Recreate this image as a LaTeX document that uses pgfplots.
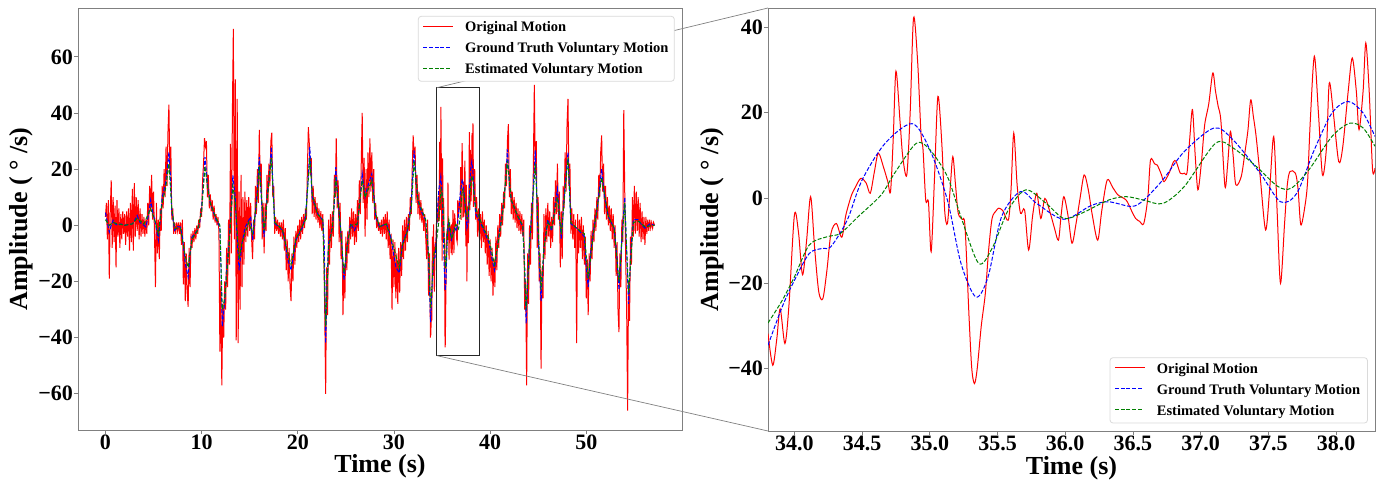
\documentclass[border=0pt]{standalone}
\usepackage{pgfplots}
\pgfplotsset{compat=1.18}
\usepackage{pgfplotstable}
\usepackage{fontspec}
\setmainfont{Liberation Serif}
\definecolor{mplgreen}{RGB}{0,128,0}
\definecolor{lgbox}{RGB}{218,218,218}
\begin{document}
\pgfplotstableread{
x y
33.805 -31.8
33.84 -39.2
33.87 -33
33.895 -26
33.93 -34.1
33.96 -25
34.0 -4
34.03 -8
34.06 -18
34.09 -10
34.12 0.3
34.15 -12
34.18 -22
34.21 -23.6
34.24 -17
34.27 -8.3
34.31 -6
34.35 -9.2
34.38 -4
34.42 0.5
34.45 2.5
34.49 4.6
34.53 3.5
34.56 1.1
34.59 6
34.62 10.5
34.66 7
34.69 3.8
34.71 1.5
34.73 14
34.75 29.7
34.78 18
34.8 9.7
34.83 5.4
34.855 20
34.88 42.2
34.91 32
34.935 15
34.95 11.3
34.97 -0.5
34.99 -1
35.01 -12.6
35.035 5
35.06 23.8
35.09 12
35.11 -3
35.13 -6
35.15 2
35.17 9.7
35.19 3
35.21 -3.6
35.24 -5
35.26 -6.7
35.29 -28
35.31 -40
35.33 -43.5
35.35 -40
35.38 -30
35.41 -22.4
35.435 -12
35.46 -4.8
35.49 -3
35.51 -2.4
35.54 -3
35.58 -5.2
35.6 2
35.62 15.2
35.645 3
35.67 -3.6
35.7 -2.8
35.73 -12.2
35.76 -4
35.79 1.1
35.82 -4.8
35.85 -0.1
35.89 -3.6
35.92 -7
35.95 -9.9
35.97 -4
35.99 0.3
36.02 -4
36.05 -10.6
36.08 -6
36.11 0
36.14 5.4
36.17 2
36.2 -4
36.24 -9.9
36.27 -3
36.31 4.2
36.35 2.5
36.39 0.7
36.45 -0.5
36.49 -3
36.52 -4.8
36.55 -5.5
36.58 -6
36.61 0
36.63 8.9
36.66 8
36.68 7.7
36.71 5.5
36.73 3.8
36.77 6
36.8 8.5
36.82 8.5
36.85 5.8
36.88 5.8
36.9 6
36.92 14
36.94 20.7
36.96 10
36.98 1.9
37.005 8
37.03 17.1
37.06 22
37.09 29.3
37.11 25
37.13 21.4
37.15 18
37.18 2.7
37.2 8
37.22 15.6
37.24 10
37.26 3.1
37.3 5
37.33 11.3
37.35 16
37.37 23
37.39 19
37.41 14.4
37.44 5
37.48 -7.5
37.51 2
37.54 14.4
37.565 -3
37.59 -20
37.62 -6
37.64 3
37.66 6.2
37.7 5.8
37.72 2
37.74 -6.3
37.77 -2
37.79 3.8
37.81 18
37.84 33.2
37.87 20
37.9 5.4
37.93 12
37.95 26.9
37.98 20
38.02 8.5
38.05 12
38.09 25
38.12 32.8
38.15 25
38.17 16
38.2 25
38.22 36.3
38.245 25
38.27 6.6
38.288 7
}\zred
\pgfplotstableread{
x y
33.805 -34.5
33.91 -25.5
34.0 -19.3
34.11 -13
34.21 -11.8
34.27 -11.4
34.39 -5.2
34.5 4.2
34.67 12.8
34.87 17.4
35.0 11.3
35.13 -0.5
35.23 -15.3
35.34 -23.2
35.43 -18.5
35.53 -4.4
35.67 1.5
35.79 -1.3
35.99 -5
36.19 -1.8
36.32 -0.9
36.49 -2
36.58 -0.5
36.72 4.2
36.88 10.9
37.1 16.4
37.24 13.6
37.44 5.8
37.59 -0.9
37.71 1.1
37.84 11.3
37.97 19.9
38.09 22.6
38.2 19.9
38.288 14.4
}\zblue
\pgfplotstableread{
x y
33.805 -29.3
33.91 -24
34.0 -18.5
34.11 -11
34.24 -9.1
34.34 -8.3
34.47 -4.4
34.64 0.7
34.74 5.8
34.9 12.8
35.0 11.3
35.13 5
35.23 -4.4
35.36 -15.3
35.46 -11.8
35.58 -2.8
35.71 1.9
35.86 -1.3
35.99 -4.8
36.12 -3.6
36.32 -0.5
36.45 0.3
36.58 -0.5
36.72 -1.3
36.88 2.7
37.11 12.8
37.24 11.7
37.41 7.4
37.57 2.7
37.67 2.3
37.8 6.6
37.97 14.4
38.1 17.5
38.2 16.4
38.288 12.1
}\zgreen
\begin{tikzpicture}
\pgfplotsset{
  mystyle/.style={scale only axis,
    axis line style={gray, line width=0.8pt},
    tick align=outside, major tick length=4pt,
    tick style={gray, line width=0.8pt},
    xtick pos=bottom, ytick pos=left,
    ticklabel style={font=\fontsize{22}{24}\selectfont\bfseries, inner sep=1pt},
    label style={font=\fontsize{26}{30}\selectfont\bfseries, inner sep=0pt},
  },
  redline/.style={color=red, line width=1pt},
  blueline/.style={color=blue, line width=1pt, dash pattern=on 4pt off 1.8pt},
  greenline/.style={color=mplgreen, line width=1pt, dash pattern=on 4pt off 1.8pt},
}
\tikzset{legtext/.style={anchor=base west, inner sep=0pt, font=\fontsize{14.5}{16}\selectfont\bfseries}}
\begin{axis}[mystyle, at={(0pt,0pt)}, anchor=south west, width=604pt, height=422pt,
  xmin=-2.855, xmax=59.955, ymin=-72.9, ymax=77.4,
  xtick={0,10,20,30,40,50}, xticklabels={0,10,20,30,40,50},
  ytick={-60,-40,-20,0,20,40,60}, yticklabels={−60,−40,−20,0,20,40,60},
  xlabel={Time (s)}, ylabel={Amplitude ( ° /s)},
  xlabel style={at={(rel axis cs:0.5,-0.1018)}, anchor=base},
  ylabel style={at={(rel axis cs:-0.0828,0.5)}, anchor=base},
  clip mode=individual]
\addplot[redline] coordinates {
(0,3)(0.1,8)(0.2,-5)(0.3,9)(0.4,-19)(0.5,5)(0.6,16)(0.7,-8)(0.8,10)(0.9,-6)
(1.0,7)(1.1,-15)(1.2,9)(1.3,-4)(1.4,6)(1.5,-8)(1.6,4)(1.7,-5)(1.8,5)(1.9,-3)
(2.0,4)(2.1,-7)(2.2,5)(2.3,-4)(2.4,6)(2.5,-9)(2.6,8)(2.7,-6)(2.8,13)(2.9,-9)
(3.0,15)(3.1,-4)(3.2,10)(3.3,-2)(3.4,9)(3.5,-5)(3.6,6)(3.7,-4)(3.8,4)(3.9,-3)
(4.0,3)(4.1,-4)(4.2,2)(4.3,-3)(4.4,8)(4.5,0)(4.6,14)(4.7,5)(4.8,18)(4.9,2)
(5.0,12)(5.1,-3)(5.2,-22)(5.3,8)(5.4,-10)(5.5,2)(5.6,-12)(5.7,6)(5.8,-2)(5.9,14)
(6.0,6)(6.1,20)(6.2,10)(6.3,28)(6.4,14)(6.5,33)(6.6,43)(6.7,18)(6.8,28)(6.9,2)
(7.0,6)(7.1,-3)(7.2,1)(7.3,-3)(7.4,1)(7.5,-2)(7.6,1)(7.7,-3)(7.8,1)(7.9,-7)
(8.0,2)(8.1,-21)(8.2,-6)(8.3,-27)(8.4,-10)(8.5,-24)(8.6,-29)(8.7,-8)(8.8,-22)(8.9,-3)
(9.0,-8)(9.1,-2)(9.2,-6)(9.3,-1)(9.4,-5)(9.5,0)(9.6,-3)(9.7,2)(9.8,-1)(9.9,6)
(10.0,3)(10.1,16)(10.2,22)(10.3,31)(10.4,28)(10.5,30)(10.6,10)(10.7,18)(10.8,6)(10.9,11)
(11.0,5)(11.1,9)(11.2,2)(11.3,7)(11.4,1)(11.5,4)(11.6,0)(11.7,3)(11.8,-2)(11.9,-45)
(12.0,-20)(12.1,-57)(12.2,-28)(12.3,-40)(12.4,-20)(12.5,-30)(12.6,-8)(12.7,-22)(12.8,2)(12.9,-14)
(13.0,29)(13.1,-10)(13.2,40)(13.3,70)(13.4,-5)(13.5,52)(13.6,-41)(13.7,45)(13.8,-42)(13.9,12)
(14.0,-30)(14.1,18)(14.2,-22)(14.3,10)(14.4,-14)(14.5,12)(14.6,-6)(14.7,9)(14.8,-4)(14.9,10)
(15.0,-2)(15.1,8)(15.2,-5)(15.3,-12)(15.4,2)(15.5,-5)(15.6,14)(15.7,4)(15.8,20)(15.9,8)
(16.0,34)(16.1,14)(16.2,22)(16.3,-5)(16.4,8)(16.5,-10)(16.6,8)(16.7,-2)(16.8,18)(16.9,8)
(17.0,22)(17.1,14)(17.2,30)(17.3,33)(17.4,10)(17.5,14)(17.6,-3)(17.7,3)(17.8,-2)(17.9,2)
(18.0,-3)(18.1,1)(18.2,-4)(18.3,1)(18.4,-5)(18.5,2)(18.6,-9)(18.7,-1)(18.8,-16)(18.9,-5)
(19.0,-20)(19.1,-8)(19.2,-22)(19.3,-27)(19.4,-10)(19.5,-20)(19.6,-4)(19.7,-14)(19.8,-2)(19.9,-8)
(20.0,0)(20.1,-6)(20.2,2)(20.3,-5)(20.4,3)(20.5,-3)(20.6,4)(20.7,-1)(20.8,6)(20.9,2)
(21.0,20)(21.1,35)(21.2,29)(21.3,18)(21.4,24)(21.5,4)(21.6,14)(21.7,3)(21.8,10)(21.9,2)
(22.0,8)(22.1,1)(22.2,6)(22.3,-1)(22.4,5)(22.5,-2)(22.6,4)(22.7,-8)(22.8,-30)(22.9,-60)
(23.0,-15)(23.1,-32)(23.2,2)(23.3,-14)(23.4,4)(23.5,-8)(23.6,5)(23.7,-4)(23.8,18)(23.9,10)
(24.0,31)(24.1,6)(24.2,16)(24.3,-6)(24.4,8)(24.5,-12)(24.6,-2)(24.7,-32)(24.8,-14)(24.9,-26)
(25.0,-4)(25.1,-16)(25.2,-2)(25.3,-10)(25.4,3)(25.5,-5)(25.6,6)(25.7,-4)(25.8,5)(25.9,-7)
(26.0,4)(26.1,-6)(26.2,9)(26.3,-2)(26.4,16)(26.5,4)(26.6,22)(26.7,40)(26.8,8)(26.9,24)
(27.0,-4)(27.1,20)(27.2,2)(27.3,26)(27.4,10)(27.5,31)(27.6,12)(27.7,26)(27.8,8)(27.9,20)
(28.0,2)(28.1,8)(28.2,-1)(28.3,3)(28.4,-2)(28.5,1)(28.6,-3)(28.7,2)(28.8,-4)(28.9,3)
(29.0,-3)(29.1,4)(29.2,-5)(29.3,5)(29.4,-8)(29.5,2)(29.6,-12)(29.7,-3)(29.8,-30)(29.9,-5)
(30.0,-22)(30.1,-6)(30.2,-26)(30.3,-10)(30.4,-28)(30.5,-8)(30.6,-24)(30.7,-6)(30.8,-18)(30.9,0)
(31.0,-12)(31.1,2)(31.2,-9)(31.3,3)(31.4,-6)(31.5,4)(31.6,-2)(31.7,10)(31.8,4)(31.9,20)
(32.0,32)(32.1,24)(32.2,28)(32.3,8)(32.4,18)(32.5,4)(32.6,12)(32.7,2)(32.8,9)(32.9,1)
(33.0,6)(33.1,-2)(33.2,4)(33.3,-4)(33.4,-12)(33.5,2)(33.6,-25)(33.7,-10)(33.8,-40)
};
\addplot[redline] table {\zred};
\addplot[redline] coordinates {
(38.3,8)(38.4,20)(38.5,2)(38.6,10)(38.7,-4)(38.8,6)(38.9,-5)
(39.0,4)(39.1,-8)(39.2,5)(39.3,-6)(39.4,2)(39.5,-10)(39.6,0)(39.7,-14)(39.8,-2)(39.9,-18)
(40.0,-5)(40.1,-20)(40.2,-8)(40.3,-25)(40.4,-12)(40.5,-22)(40.6,-4)(40.7,-16)(40.8,0)(40.9,-8)
(41.0,4)(41.1,-4)(41.2,8)(41.3,0)(41.4,12)(41.5,6)(41.6,22)(41.7,14)(41.8,30)(41.9,36)
(42.0,10)(42.1,20)(42.2,4)(42.3,12)(42.4,2)(42.5,10)(42.6,1)(42.7,8)(42.8,-1)(42.9,6)
(43.0,-2)(43.1,5)(43.2,-3)(43.3,4)(43.4,-4)(43.5,2)(43.6,-30)(43.7,-20)(43.8,-57)(43.9,-10)
(44.0,-28)(44.1,0)(44.2,-14)(44.3,8)(44.4,-5)(44.5,22)(44.6,50)(44.7,18)(44.8,30)(44.9,-8)
(45.0,10)(45.1,-20)(45.2,-10)(45.3,-51)(45.4,-15)(45.5,-26)(45.6,4)(45.7,-12)(45.8,6)(45.9,-6)
(46.0,8)(46.1,-4)(46.2,5)(46.3,-8)(46.4,3)(46.5,-6)(46.6,10)(46.7,0)(46.8,16)(46.9,4)
(47.0,22)(47.1,2)(47.2,12)(47.3,-15)(47.4,5)(47.5,-12)(47.6,14)(47.7,6)(47.8,26)(47.9,12)
(48.0,36)(48.1,45)(48.2,14)(48.3,22)(48.4,-3)(48.5,6)(48.6,-5)(48.7,4)(48.8,-8)(48.9,2)
(49.0,-42)(49.1,4)(49.2,-10)(49.3,2)(49.4,-8)(49.5,3)(49.6,-12)(49.7,0)(49.8,-14)(49.9,-4)
(50.0,-26)(50.1,-12)(50.2,-32)(50.3,-10)(50.4,-20)(50.5,-2)(50.6,-12)(50.7,2)(50.8,-6)(50.9,6)
(51.0,-2)(51.1,10)(51.2,2)(51.3,18)(51.4,10)(51.5,26)(51.6,32)(51.7,12)(51.8,22)(51.9,4)
(52.0,14)(52.1,2)(52.2,10)(52.3,0)(52.4,7)(52.5,-2)(52.6,6)(52.7,-5)(52.8,4)(52.9,-8)
(53.0,0)(53.1,-18)(53.2,-6)(53.3,-30)(53.4,-38)(53.5,-10)(53.6,-22)(53.7,2)(53.8,-6)(53.9,41)
(54.0,12)(54.1,-12)(54.2,-30)(54.3,-66)(54.4,-20)(54.5,-34)(54.6,-4)(54.7,-14)(54.8,10)(54.9,-4)
(55.0,14)(55.1,-3)(55.2,12)(55.3,-2)(55.4,10)(55.5,-4)(55.6,8)(55.7,-6)(55.8,5)(55.9,-5)
(56.0,3)(56.1,-7)(56.2,3)(56.3,-3)(56.4,2)(56.5,-2)(56.6,2)(56.7,-1)(56.8,1)(56.9,-1)
(57.0,1)(57.1,0)
};
\addplot[blueline] coordinates {
(0.0,4.5)(0.2,1)(0.4,-2.4)(0.6,0)(0.8,1.8)(1.0,0.5)(1.3,0)(1.6,0.5)(2.0,0)(2.4,0.3)(2.8,0.5)
(3.0,1.5)(3.3,3.5)(3.6,1)(4.0,0)(4.2,-0.6)(4.5,4)(4.7,9)(4.9,5)(5.2,0.7)(5.5,-5.3)(5.7,2)
(5.9,10)(6.25,15)(6.45,21)(6.6,26)(6.75,18)(6.9,5)(7.2,-1.8)(7.5,-0.5)(7.8,-0.6)(8.0,-4)
(8.3,-13.5)(8.6,-18.4)(8.8,-10)(9.0,-4.2)(9.3,-3)(9.55,-1.8)(9.8,1)(10.0,6.5)(10.2,16)
(10.35,24.3)(10.6,15)(10.9,7.8)(11.2,5)(11.45,2.5)(11.9,-0.6)(12.05,-20)(12.15,-36)
(12.4,-27)(12.6,-16)(12.85,-6.4)(13.1,8)(13.25,17.8)(13.5,10)(13.7,-5)(13.9,-16)(14.2,-6.4)
(14.5,-1)(14.9,1.8)(15.1,3)(15.3,-5.3)(15.55,3)(15.8,12.5)(16.0,24.3)(16.2,10)(16.5,-4.2)
(16.8,10)(17.05,18)(17.25,27.9)(17.45,12)(17.6,0.6)(18.05,-0.6)(18.4,-1.8)(18.7,-6)
(18.9,-11.3)(19.3,-16)(19.8,-5.3)(20.5,-0.6)(20.8,3)(21.05,15)(21.25,27.9)(21.5,10)
(22.05,4.2)(22.6,1.8)(22.75,-6.4)(22.9,-42)(23.05,-20)(23.2,-6.4)(23.6,-0.6)(23.8,8)
(23.95,20.7)(24.15,10)(24.4,0.6)(24.6,-8)(24.8,-19.6)(25.0,-12)(25.2,-5.3)(25.5,0.6)
(25.9,-1.8)(26.2,0.6)(26.5,10)(26.7,18.4)(27.0,10)(27.25,13.6)(27.7,18.4)(28.1,3)
(28.5,-0.6)(29.2,0.6)(29.6,-3)(29.9,-8.9)(30.2,-14.8)(30.55,-17)(30.9,-6.4)(31.4,-1.8)
(31.8,7.8)(31.95,18)(32.1,26.7)(32.3,16)(32.5,8.9)(32.8,5.3)(33.3,1.8)(33.55,-8)(33.7,-22)(33.805,-34.5)
};
\addplot[blueline] table {\zblue};
\addplot[blueline] coordinates {
(38.288,14.4)(38.5,4.2)(39.2,-0.6)(39.9,-6.4)(40.2,-12)(40.45,-16)(40.8,-6.4)(41.3,5.3)
(41.6,15)(41.8,27)(42.0,15)(42.2,8.9)(42.9,3)(43.4,-0.6)(43.6,-15)(43.75,-35)(43.9,-20)
(44.1,-6.4)(44.4,8)(44.7,26.7)(44.95,0)(45.3,-27)(45.6,-8)(46.0,2)(46.4,-2)(47.0,13)
(47.4,-5)(47.7,10)(48.1,26)(48.4,0.5)(49.0,-1)(49.8,-4)(50.0,-15)(50.2,-22)(50.45,-10)
(50.7,-3)(51.1,5)(51.4,14)(51.6,20)(51.9,10)(52.3,3)(52.9,-1)(53.2,-12)(53.4,-23)
(53.7,-5)(54.0,10)(54.2,-10)(54.4,-28)(54.65,-8)(54.9,2)(55.4,2)(55.8,0)(56.1,-1)(56.6,0.5)(57.1,0)
};
\addplot[greenline] coordinates {
(0.0,2)(0.4,0)(0.8,1)(1.3,0.5)(2.0,0)(2.8,0.5)(3.3,2.5)(4.0,0.5)(4.7,6)(5.2,1)(5.5,-3)
(5.9,8)(6.25,13)(6.6,22)(6.9,6)(7.2,-1)(7.8,-1)(8.3,-11)(8.6,-15)(9.0,-5)(9.55,-2)(10.0,5)
(10.35,21)(10.6,14)(10.9,8)(11.45,3)(11.9,0)(12.15,-30)(12.4,-26)(12.85,-8)(13.25,14)
(13.5,8)(13.9,-12)(14.2,-6)(14.9,1)(15.3,-3)(15.8,10)(16.0,21)(16.5,-2)(17.25,24)(17.6,1)
(18.4,-1.5)(18.9,-9)(19.3,-14)(19.8,-5)(20.8,2)(21.25,24)(21.5,11)(22.05,4)(22.6,2)
(22.9,-36)(23.2,-8)(23.6,-1)(23.95,17)(24.4,1)(24.8,-17)(25.2,-6)(25.5,0)(26.2,0.5)
(26.7,16)(27.0,10)(27.7,16)(28.1,4)(28.5,-0.5)(29.2,0.5)(29.9,-7)(30.55,-15)(30.9,-7)
(31.4,-2)(31.8,6)(32.1,23)(32.5,9)(33.3,2)(33.6,-10)(33.805,-29.3)
};
\addplot[greenline] table {\zgreen};
\addplot[greenline] coordinates {
(38.288,12.1)(38.5,6)(39.2,0)(39.9,-5)(40.45,-14)(40.8,-7)(41.3,4)(41.8,23)(42.2,9)(42.9,3)
(43.4,0)(43.75,-30)(44.1,-7)(44.7,22)(45.3,-23)(45.6,-8)(46.0,1)(46.4,-1)(47.0,10)(47.4,-3)
(48.1,24)(48.4,1)(49.0,-1)(49.8,-3)(50.2,-19)(50.7,-4)(51.6,17)(52.3,3)(52.9,-1)(53.4,-20)
(54.0,8)(54.4,-24)(54.9,1)(55.4,1.5)(56.1,-0.5)(57.1,0)
};
\draw[black!85, line width=1.3pt] (axis cs:34.45,-46.4) rectangle (axis cs:38.87,49.0);
\draw[gray, line width=0.7pt] (axis cs:34.45,49.0) -- (rel axis cs:1.14238,1);
\draw[gray, line width=0.7pt] (axis cs:34.45,-46.4) -- (rel axis cs:1.14238,-0.00237);
\end{axis}
\begin{axis}[mystyle, at={(690pt,-1pt)}, anchor=south west, width=607pt, height=423pt,
  xmin=33.805, xmax=38.288, ymin=-54.6, ymax=44.5,
  xtick={34,34.5,35,35.5,36,36.5,37,37.5,38},
  xticklabels={34.0,34.5,35.0,35.5,36.0,36.5,37.0,37.5,38.0},
  ytick={-40,-20,0,20,40}, yticklabels={−40,−20,0,20,40},
  xlabel={Time (s)}, ylabel={Amplitude ( ° /s)},
  xlabel style={at={(rel axis cs:0.5,-0.1017)}, anchor=base},
  ylabel style={at={(rel axis cs:-0.081,0.5)}, anchor=base}]
\addplot[redline, smooth] table {\zred};
\addplot[blueline, smooth] table {\zblue};
\addplot[greenline, smooth] table {\zgreen};
\end{axis}
% legend of the left panel
\path[draw=lgbox, fill=white, rounded corners=3pt, line width=0.8pt] (340.3pt,348.7pt) rectangle (596.3pt,413.7pt);
\fill[red] (345pt,403pt) rectangle (375pt,404.2pt);
\foreach \a in {0,5.8,11.6,17.4,23.2} {
  \fill[blue] ([xshift=\a pt]345pt,382pt) rectangle ([xshift=\a pt]349pt,383.2pt);
  \fill[mplgreen] ([xshift=\a pt]345pt,361pt) rectangle ([xshift=\a pt]349pt,362.2pt);
}
\node[legtext] at (387pt,398pt) {Original Motion};
\node[legtext] at (387pt,377pt) {Ground Truth Voluntary Motion};
\node[legtext] at (387pt,356pt) {Estimated Voluntary Motion};
% legend of the right panel
\path[draw=lgbox, fill=white, rounded corners=3pt, line width=0.8pt] (1032pt,7pt) rectangle (1289.5pt,72.3pt);
\fill[red] (1036.7pt,62pt) rectangle (1066.7pt,63.2pt);
\foreach \a in {0,5.8,11.6,17.4,23.2} {
  \fill[blue] ([xshift=\a pt]1036.7pt,41pt) rectangle ([xshift=\a pt]1040.7pt,42.2pt);
  \fill[mplgreen] ([xshift=\a pt]1036.7pt,20pt) rectangle ([xshift=\a pt]1040.7pt,21.2pt);
}
\node[legtext] at (1078.7pt,56.6pt) {Original Motion};
\node[legtext] at (1078.7pt,35.6pt) {Ground Truth Voluntary Motion};
\node[legtext] at (1078.7pt,14.6pt) {Estimated Voluntary Motion};
\pgfresetboundingbox
\path[use as bounding box] (-78pt,-52pt) rectangle (1299pt,430pt);
\end{tikzpicture}
\end{document}
